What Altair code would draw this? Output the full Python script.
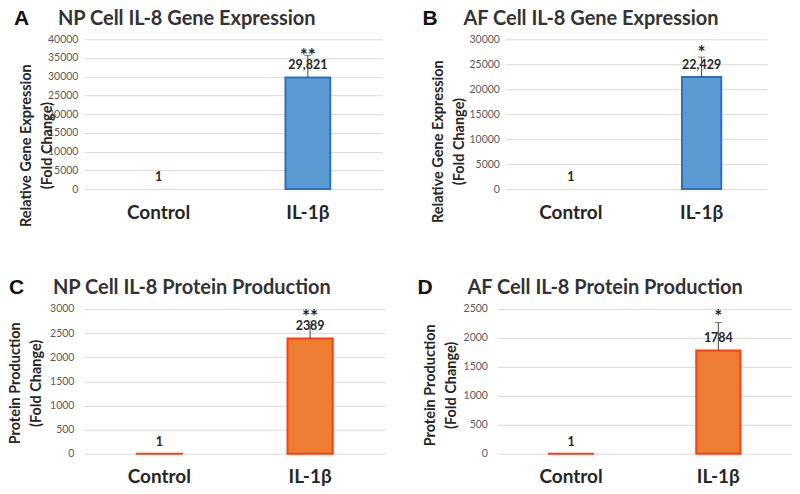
import altair as alt
import pandas as pd

categories = ["Control", "IL-1β"]

np_gene_mean = [1, 29821]
np_gene_err = [0, 5900]
np_gene_labels = ["1", "29,821"]
np_gene_sig = ["", "**"]
np_gene_ticks = [0, 5000, 10000, 15000, 20000, 25000, 30000, 35000, 40000]

af_gene_mean = [1, 22429]
af_gene_err = [0, 4000]
af_gene_labels = ["1", "22,429"]
af_gene_sig = ["", "*"]
af_gene_ticks = [0, 5000, 10000, 15000, 20000, 25000, 30000]

np_prot_mean = [1, 2389]
np_prot_err = [0, 290]
np_prot_labels = ["1", "2389"]
np_prot_sig = ["", "**"]
np_prot_ticks = [0, 500, 1000, 1500, 2000, 2500, 3000]

af_prot_mean = [1, 1784]
af_prot_err = [0, 480]
af_prot_labels = ["1", "1784"]
af_prot_sig = ["", "*"]
af_prot_ticks = [0, 500, 1000, 1500, 2000, 2500]

FONT = "Lato"
TXT = "#262626"


def panel(letter, title, ytitle, mean, err, labels, sig, ticks, fill, stroke,
          hide_small, W, H, letter_x, title_x, head_y, ytx, yty, lpad, star_dy):
    df = pd.DataFrame({"cat": categories, "mean": mean, "err": err,
                       "label": labels, "sig": sig})
    base = alt.Chart(df).transform_calculate(upper="datum.mean + datum.err")
    x = alt.X("cat:N", sort=categories,
              scale=alt.Scale(domain=categories, paddingInner=0.7, paddingOuter=0.35),
              axis=alt.Axis(title=None, labelAngle=0, domain=False, ticks=False,
                            labelFont=FONT, labelFontSize=19, labelFontWeight="bold",
                            labelColor=TXT, labelPadding=14))
    yscale = alt.Scale(domain=[0, ticks[-1]], nice=False, zero=True)
    yaxis = alt.Axis(values=ticks, format="d", grid=True, gridColor="#d9d9d9",
                     gridWidth=1, domain=False, ticks=False, labelOverlap=False,
                     labelFont=FONT, labelFontSize=10.5, labelColor="#595959",
                     labelPadding=lpad, title=ytitle, titleFont=FONT,
                     titleFontSize=14.5, titleFontWeight="bold", titleColor=TXT,
                     titleLineHeight=21, titleX=ytx, titleY=yty,
                     titleAngle=270, titleAlign="center", titleBaseline="bottom")
    y = alt.Y("mean:Q", scale=yscale, axis=yaxis)
    y_up = alt.Y("upper:Q", scale=yscale, axis=yaxis)
    if hide_small:
        so = alt.condition("datum.mean > 10", alt.value(1), alt.value(0))
    else:
        so = alt.value(1)
    bars = base.mark_bar(fill=fill, stroke=stroke, strokeWidth=2).encode(
        x=x, y=y, strokeOpacity=so)
    vals = base.mark_text(font=FONT, fontSize=12.5, fontWeight="bold", color=TXT,
                          baseline="middle", dy=-12).encode(x=x, y=y, text="label:N")
    eb = base.transform_filter("datum.err > 0")
    rule = eb.mark_rule(color="#404040", strokeWidth=1).encode(x=x, y=y, y2="upper:Q")
    cap = eb.mark_tick(color="#404040", size=7, thickness=1).encode(x=x, y=y_up)
    stars = eb.mark_text(font=FONT, fontSize=19, fontWeight="bold", color=TXT,
                         baseline="alphabetic", dy=star_dy).encode(x=x, y=y_up, text="sig:N")
    let = alt.Chart(pd.DataFrame({"t": [letter]})).mark_text(
        font="Liberation Sans", fontSize=21, fontWeight="bold", color="#111111",
        align="left", baseline="alphabetic").encode(
        text="t:N", x=alt.value(letter_x), y=alt.value(head_y))
    ttl = alt.Chart(pd.DataFrame({"t": [title]})).mark_text(
        font=FONT, fontSize=20, fontWeight="bold", color="#333333",
        align="left", baseline="alphabetic").encode(
        text="t:N", x=alt.value(title_x), y=alt.value(head_y))
    return alt.layer(bars, vals, rule, cap, stars, let, ttl).properties(width=W, height=H)


BLUE, BLUE_E = "#5B9BD5", "#2E6FC0"
ORANGE, ORANGE_E = "#ED7D31", "#FF3F0F"
gene_title = ["Relative Gene Expression", "(Fold Change)"]
prot_title = ["Protein Production", "(Fold Change)"]

A = panel("A", "NP Cell IL-8 Gene Expression", gene_title, np_gene_mean, np_gene_err,
          np_gene_labels, np_gene_sig, np_gene_ticks, BLUE, BLUE_E, True,
          299, 150, -70, -26, -14, -50, 106, 6, 7)
B = panel("B", "AF Cell IL-8 Gene Expression", gene_title, af_gene_mean, af_gene_err,
          af_gene_labels, af_gene_sig, af_gene_ticks, BLUE, BLUE_E, True,
          262, 150, -83, -42, -14, -60, 102, 6, 2)
C = panel("C", "NP Cell IL-8 Protein Production", prot_title, np_prot_mean, np_prot_err,
          np_prot_labels, np_prot_sig, np_prot_ticks, ORANGE, ORANGE_E, False,
          302, 145, -75, -31, -15, -61, 74, 10, -1)
D = panel("D", "AF Cell IL-8 Protein Production", prot_title, af_prot_mean, af_prot_err,
          af_prot_labels, af_prot_sig, af_prot_ticks, ORANGE, ORANGE_E, False,
          295, 145, -80, -30, -15, -60, 76, 10, 0)

chart = alt.vconcat(
    alt.hconcat(A, B, spacing=40),
    alt.hconcat(C, D, spacing=32),
    spacing=50,
).properties(padding={"left": 0, "top": 0, "right": 0, "bottom": 0},
             background="white").configure_view(stroke=None)

chart.save("out.html", embed_options={"renderer": "svg", "actions": False})
